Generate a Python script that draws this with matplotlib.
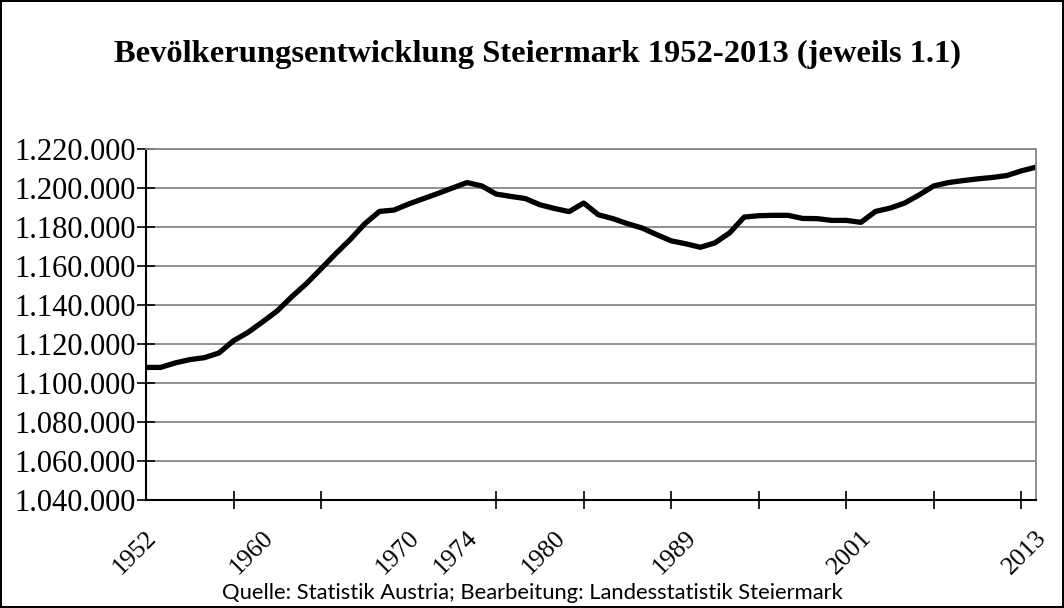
import numpy as np
import matplotlib.pyplot as plt
import matplotlib.transforms as mtransforms

plt.rcParams["font.family"] = ["Liberation Serif", "DejaVu Serif"]

# Bevölkerung jeweils 1.1.
years = np.arange(1952, 2014)
population = [
    1108000, 1108000, 1110300, 1112000, 1113000, 1115400, 1121700, 1126000,
    1131400, 1137000, 1144300, 1151000, 1158600, 1166300, 1173600, 1181700,
    1188000, 1188700, 1191800, 1194500, 1197200, 1200000, 1202800, 1201100,
    1196900, 1195700, 1194600, 1191400, 1189500, 1187900, 1192300, 1186300,
    1184300, 1181700, 1179500, 1176100, 1172900, 1171400, 1169600, 1171900,
    1177000, 1185100, 1185800, 1186000, 1186000, 1184400, 1184300, 1183400,
    1183400, 1182400, 1188000, 1189700, 1192300, 1196500, 1201100, 1202800,
    1203800, 1204700, 1205400, 1206400, 1208800, 1210700,
]
label_years = [1952, 1960, 1970, 1974, 1980, 1989, 2001, 2013]
y_ticks = np.arange(1040000, 1220001, 20000)


def fmt(v):
    return f"{v:,.0f}".replace(",", ".")


fig = plt.figure(figsize=(10.64, 6.08), dpi=100, linewidth=1.5, edgecolor="black")
ax = fig.add_axes([0.1372, 0.1776, 0.8365, 0.5773])

ax.plot(years, population, color="black", linewidth=3.8, solid_joinstyle="round")

ax.set_xlim(1952, 2013)
ax.set_ylim(1040000, 1220000)

ax.set_yticks(y_ticks)
ax.set_yticklabels([fmt(v) for v in y_ticks], fontsize=22)
ax.tick_params(axis="y", direction="inout", length=13, width=1.2, pad=1)
ax.yaxis.grid(True, color="#888888", linewidth=1.3)
ax.set_axisbelow(True)

# beschriftete Jahre, Teilstriche alle 6 Jahre
ax.set_xticks(label_years)
ax.set_xticklabels([str(y) for y in label_years], fontsize=18.5, rotation=45,
                   ha="right", va="center", rotation_mode="anchor")
ax.set_xticks(np.arange(1952, 2014, 6), minor=True)
ax.tick_params(axis="x", which="major", length=0, pad=25)
ax.tick_params(axis="x", which="minor", direction="inout", length=13, width=1.2)
offset = mtransforms.ScaledTranslation(7 / 100, 0, fig.dpi_scale_trans)
for lbl in ax.get_xticklabels():
    lbl.set_transform(lbl.get_transform() + offset)

ax.spines["left"].set_linewidth(1.5)
ax.spines["bottom"].set_linewidth(1.5)
ax.spines["top"].set_color("#888888")
ax.spines["top"].set_linewidth(1.3)
ax.spines["right"].set_color("#888888")
ax.spines["right"].set_linewidth(1.3)

fig.text(0.505, 0.898, "Bevölkerungsentwicklung Steiermark 1952-2013 (jeweils 1.1)",
         ha="center", va="baseline", fontsize=23.4, fontweight="bold")
fig.text(0.5, 0.024, "Quelle: Statistik Austria; Bearbeitung: Landesstatistik Steiermark",
         ha="center", va="center", fontsize=15.8,
         family=["Lato", "Liberation Sans", "DejaVu Sans"])

fig.savefig("out.png", dpi=100, edgecolor=fig.get_edgecolor())
